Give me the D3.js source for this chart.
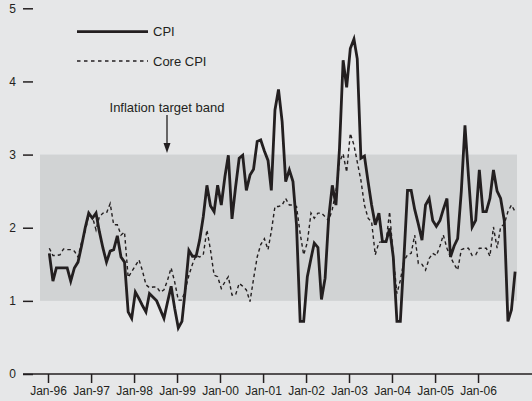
<!DOCTYPE html>
<html>
<head>
<meta charset="utf-8">
<script src="https://cdn.jsdelivr.net/npm/d3@7"></script>
<style>
  body { margin: 0; background: #e6e7e8; }
  text { font-family: 'Liberation Sans', Arial, sans-serif; font-size: 13px; fill: #231f20; }
</style>
</head>
<body>
<div id="chart"></div>
<script>
// monthly data, Jan-96 onwards
var startYear = 1996
var cpi = [1.65, 1.27, 1.45, 1.45, 1.45, 1.45, 1.27, 1.45, 1.53, 1.75, 2.0, 2.2,
  2.13, 2.2, 1.95, 1.72, 1.53, 1.68, 1.70, 1.89, 1.6, 1.53, 0.85, 0.76,
  1.12, 1.03, 0.94, 0.85, 1.1, 1.05, 1.0, 0.88, 0.76, 0.98, 1.2, 0.9,
  0.63, 0.72, 1.15, 1.69, 1.61, 1.61, 1.83, 2.15, 2.58, 2.3, 2.22, 2.58,
  2.31, 2.7, 2.99, 2.12, 2.55, 2.95, 2.99, 2.51, 2.72, 2.8, 3.18, 3.2,
  3.05, 2.92, 2.51, 3.61, 3.89, 3.45, 2.63, 2.79, 2.63, 2.04, 0.72, 0.72,
  1.33, 1.58, 1.79, 1.73, 1.02, 1.31, 2.13, 2.58, 2.31, 3.08, 4.29, 3.92,
  4.45, 4.58, 4.31, 2.95, 2.98, 2.63, 2.31, 2.04, 2.2, 1.81, 1.81, 1.99,
  1.6, 0.72, 0.72, 1.6, 2.51, 2.51, 2.25, 2.05, 1.83, 2.31, 2.4, 2.1,
  2.02, 2.1, 2.25, 2.4, 1.6, 1.75, 1.85, 2.5, 3.4, 2.7, 2.01, 2.1,
  2.79, 2.22, 2.22, 2.4, 2.79, 2.5, 2.4, 2.1, 0.72, 0.88, 1.4]
var coreCpi = [1.72, 1.62, 1.62, 1.63, 1.71, 1.70, 1.70, 1.68, 1.6, 1.8, 1.95, 2.17,
  2.15, 1.97, 2.15, 2.2, 2.2, 2.33, 2.04, 2.04, 1.9, 1.94, 1.32, 1.4,
  1.48, 1.56, 1.42, 1.22, 1.18, 1.19, 1.19, 1.12, 1.15, 1.28, 1.45, 1.26,
  1.01, 1.01, 1.15, 1.35, 1.5, 1.62, 1.6, 1.63, 1.97, 1.7, 1.35, 1.33,
  1.17, 1.26, 1.33, 1.08, 1.08, 1.24, 1.2, 1.15, 0.99, 1.3, 1.6, 1.77,
  1.85, 1.7, 1.95, 2.29, 2.29, 2.31, 2.4, 2.31, 2.31, 2.29, 1.92, 1.63,
  1.8, 2.2, 2.13, 2.2, 2.2, 2.15, 2.1, 2.25, 2.5, 2.9, 3.01, 2.76,
  3.29, 3.13, 2.9, 2.65, 2.31, 2.13, 2.08, 1.63, 1.8, 1.81, 1.81, 2.22,
  1.6, 1.1, 1.28, 1.55, 1.63, 1.65, 1.9, 1.51, 1.5, 1.42, 1.58, 1.65,
  1.62, 1.75, 1.9, 1.72, 1.6, 1.5, 1.42, 1.7, 1.72, 1.72, 1.62, 1.63,
  1.72, 1.72, 1.72, 1.61, 2.01, 1.72, 2.01, 2.05, 2.22, 2.31, 2.22]
var yearTicks = [1996, 1997, 1998, 1999, 2000, 2001, 2002, 2003, 2004, 2005, 2006]
var yTicks = [0, 1, 2, 3, 4, 5]
var band = [1, 3]
var seriesNames = ['CPI', 'Core CPI']
var bandLabel = 'Inflation target band'

var width = 532
var height = 401
var ink = '#231f20'

var svg = d3.select('#chart')
  .append('svg')
  .attr('width', width)
  .attr('height', height)

svg.append('rect')
  .attr('width', width)
  .attr('height', height)
  .attr('fill', '#e6e7e8')

var xPositionScale = d3.scaleTime()
  .domain([new Date(1996, 0, 1), new Date(2007, 0, 1)])
  .range([48, 521])
var yPositionScale = d3.scaleLinear()
  .domain([0, 5])
  .range([374, 8.3])

// points sit a little after the start of their month
function monthDate(i) {
  return new Date(startYear, i, 12)
}

// target band
svg.append('rect')
  .attr('x', 40)
  .attr('width', 477)
  .attr('y', yPositionScale(band[1]))
  .attr('height', yPositionScale(band[0]) - yPositionScale(band[1]))
  .attr('fill', '#d1d3d4')

var line = d3.line()
  .x(function(d, i) { return xPositionScale(monthDate(i)) })
  .y(function(d) { return yPositionScale(d) })

svg.append('path')
  .datum(coreCpi)
  .attr('d', line)
  .attr('fill', 'none')
  .attr('stroke', ink)
  .attr('stroke-width', 1.4)
  .attr('stroke-dasharray', '3.5,3')

svg.append('path')
  .datum(cpi)
  .attr('d', line)
  .attr('fill', 'none')
  .attr('stroke', ink)
  .attr('stroke-width', 2.8)
  .attr('stroke-linejoin', 'miter')

// y axis
var yAxis = d3.axisLeft(yPositionScale)
  .tickValues(yTicks)
  .tickFormat(d3.format('d'))
  .tickSize(10)
  .tickPadding(7)
svg.append('g')
  .attr('class', 'axis y-axis')
  .attr('transform', 'translate(33,0)')
  .call(yAxis)
  .call(g => g.select('.domain').remove())

// x axis
var xAxis = d3.axisBottom(xPositionScale)
  .tickValues(yearTicks.map(y => new Date(y, 0, 1)))
  .tickFormat(d3.timeFormat('%b-%y'))
  .tickSize(9)
  .tickPadding(3)
svg.append('g')
  .attr('class', 'axis x-axis')
  .attr('transform', 'translate(0,374)')
  .call(xAxis)
  .call(g => g.select('.domain').remove())

svg.append('line')
  .attr('x1', 23)
  .attr('x2', width)
  .attr('y1', 374)
  .attr('y2', 374)
  .attr('stroke', ink)
  .attr('stroke-width', 1.5)

svg.selectAll('.axis line')
  .attr('stroke', ink)
  .attr('stroke-width', 1.5)
svg.selectAll('.axis text')
  .attr('fill', ink)
  .style('font-family', "'Liberation Sans', Arial, sans-serif")
  .style('font-size', '12px')

// legend
svg.append('line')
  .attr('x1', 77).attr('x2', 148)
  .attr('y1', 31.7).attr('y2', 31.7)
  .attr('stroke', ink)
  .attr('stroke-width', 2.8)
svg.append('text')
  .text(seriesNames[0])
  .attr('x', 153)
  .attr('y', 36)

svg.append('line')
  .attr('x1', 77).attr('x2', 148)
  .attr('y1', 61).attr('y2', 61)
  .attr('stroke', ink)
  .attr('stroke-width', 1.4)
  .attr('stroke-dasharray', '3.5,3.5')
svg.append('text')
  .text(seriesNames[1])
  .attr('x', 153)
  .attr('y', 65.5)

// band annotation with arrow
svg.append('text')
  .text(bandLabel)
  .attr('x', 167)
  .attr('y', 111.5)
  .attr('text-anchor', 'middle')

svg.append('line')
  .attr('x1', 167).attr('x2', 167)
  .attr('y1', 115).attr('y2', 146)
  .attr('stroke', ink)
  .attr('stroke-width', 1.3)
svg.append('path')
  .attr('d', 'M163.5,143 L170.5,143 L167,153 Z')
  .attr('fill', ink)
</script>
</body>
</html>
